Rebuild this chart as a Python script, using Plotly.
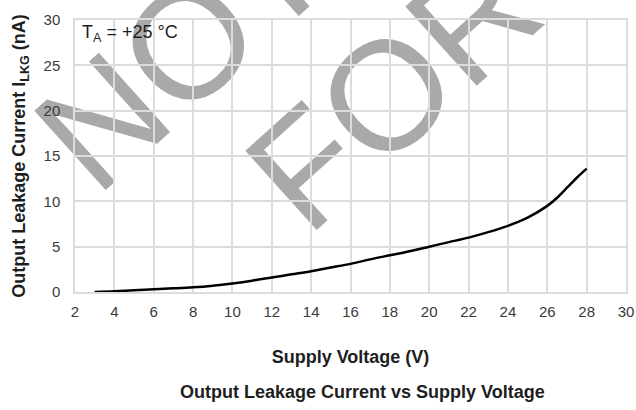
import plotly.graph_objects as go

voltage = [3, 4, 5, 6, 7, 8, 9, 10, 11, 12, 13, 14, 15, 16, 17, 18, 19, 20, 21, 22, 23, 24, 25, 26, 26.5, 27, 27.5, 28]
leakage = [0.0, 0.08, 0.2, 0.3, 0.4, 0.52, 0.7, 0.95, 1.25, 1.6, 1.95, 2.3, 2.7, 3.1, 3.6, 4.05, 4.5, 5.0, 5.5, 6.0, 6.6, 7.3, 8.2, 9.5, 10.4, 11.5, 12.6, 13.6]

x_ticks = [2, 4, 6, 8, 10, 12, 14, 16, 18, 20, 22, 24, 26, 28, 30]
y_ticks = [0, 5, 10, 15, 20, 25, 30]

fig = go.Figure()
fig.add_trace(go.Scatter(x=voltage, y=leakage, mode="lines",
                         line=dict(color="black", width=2.5, shape="spline", smoothing=1.0),
                         showlegend=False, hoverinfo="skip"))

font = "Liberation Sans, Arial, sans-serif"
grid = "#dcdcdc"
tick_font = dict(family=font, size=15, color="#3a3a3a")
title_font = dict(family=font, size=18, color="#1e1e1e")
fig.update_xaxes(range=[2, 30], tickvals=x_ticks, showgrid=True, gridcolor=grid, gridwidth=1.5,
                 zeroline=False, showline=True, linecolor=grid, linewidth=1.5, mirror=True,
                 ticks="", ticklabelstandoff=5, automargin=False, tickfont=tick_font,
                 title=dict(text="<b>Supply Voltage (V)</b>", font=title_font, standoff=32))
fig.update_yaxes(range=[0, 30], tickvals=y_ticks, showgrid=True, gridcolor=grid, gridwidth=1.5,
                 zeroline=False, showline=True, linecolor=grid, linewidth=1.5, mirror=True,
                 ticks="", ticklabelstandoff=10, automargin=False, tickfont=tick_font,
                 title=dict(text="<b>Output Leakage Current I<sub>LKG</sub> (nA)</b>", font=title_font, standoff=13))

FW, FH = 636, 410
L, T, W, H = 75, 20, 551, 272   # plot area in window pixels

def px2paper(px, py):
    return (px - L) / W, (T + H - py) / H

# watermark drawn below gridlines as shape labels
wm_color = "#a9a9a9"
for word, cx, cy in [("NOT", 172, 38), ("FOR", 383, 78)]:
    xp, yp = px2paper(cx, cy)
    fig.add_shape(type="rect", xref="paper", yref="paper", x0=xp - 0.001, x1=xp + 0.001,
                  y0=yp - 0.001, y1=yp + 0.001, layer="below",
                  line=dict(width=0, color="rgba(0,0,0,0)"), fillcolor="rgba(0,0,0,0)",
                  label=dict(text=word, textangle=-42, textposition="middle center",
                             xanchor="center", yanchor="middle", padding=0,
                             font=dict(family=font, size=155, color=wm_color)))

tx, ty = px2paper(80, 20)
fig.add_annotation(text="T<sub>A</sub> = +25 °C", xref="paper", yref="paper", x=tx, y=ty,
                   showarrow=False, xanchor="left", yanchor="top",
                   font=dict(family=font, size=18, color="#1e1e1e"))
bx, by = px2paper(362, 392)
fig.add_annotation(text="<b>Output Leakage Current vs Supply Voltage</b>", xref="paper", yref="paper",
                   x=bx, y=by, showarrow=False, xanchor="center", yanchor="middle", font=title_font)

fig.update_layout(width=FW, height=FH,
                  margin=dict(l=L, r=FW - L - W, t=T, b=FH - T - H),
                  plot_bgcolor="rgba(0,0,0,0)", paper_bgcolor="white")
fig.write_html("out.html", config={"displayModeBar": False},
               post_script="document.body.style.margin='0';document.body.style.overflow='hidden';")
